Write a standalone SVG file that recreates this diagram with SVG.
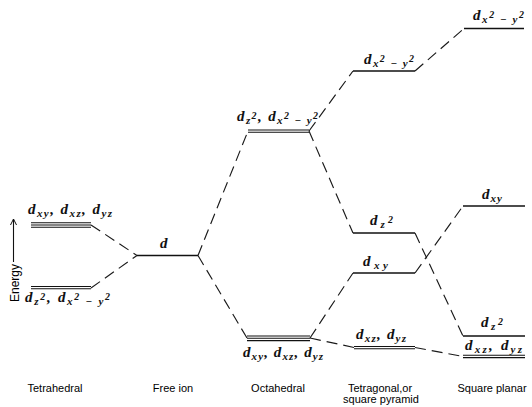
<svg xmlns="http://www.w3.org/2000/svg" width="532" height="407" viewBox="0 0 532 407">
<style>
.lv{stroke:#111;stroke-width:1.4;fill:none}
.lt{stroke:#111;stroke-width:1.05;fill:none}
.cn{stroke:#1a1a1a;stroke-width:1.15;stroke-dasharray:11 6;fill:none}
.m{font-family:"Liberation Serif","DejaVu Serif",serif;font-style:italic;font-weight:bold;font-size:15px;fill:#111}
.m .s{font-size:11px}
.m .p{font-size:10px}
.cap{font-family:"Liberation Sans",Arial,sans-serif;font-size:11px;fill:#000;text-anchor:middle}
</style>
<defs>
<marker id="ah" markerWidth="8" markerHeight="8" refX="6" refY="4" orient="auto" markerUnits="userSpaceOnUse">
<path d="M0,1 L6,4 L0,7" fill="none" stroke="#111" stroke-width="1"/>
</marker>
</defs>
<rect width="532" height="407" fill="#ffffff"/>

<g id="connectors">
<line class="cn" x1="91" y1="225" x2="137" y2="255.5"/>
<line class="cn" x1="91" y1="288" x2="137" y2="255.5"/>
<line class="cn" x1="198" y1="255.5" x2="248" y2="131"/>
<line class="cn" x1="198" y1="255.5" x2="247" y2="338"/>
<line class="cn" x1="309" y1="131" x2="353" y2="71"/>
<line class="cn" x1="309" y1="131" x2="353" y2="233"/>
<line class="cn" x1="310" y1="338" x2="353" y2="273"/>
<line class="cn" x1="310" y1="338" x2="354" y2="347.5"/>
<line class="cn" x1="415" y1="71" x2="464" y2="28.5"/>
<line class="cn" x1="415" y1="233" x2="463" y2="336"/>
<line class="cn" x1="415" y1="273" x2="463" y2="206"/>
<line class="cn" x1="415" y1="347.5" x2="463" y2="356.5"/>
</g>

<g id="energy-axis">
<line x1="13.5" y1="262" x2="13.5" y2="219" stroke="#111" stroke-width="1.1" marker-end="url(#ah)"/>
<text transform="translate(19,283) rotate(-90)" font-family="Liberation Sans, Arial, sans-serif" font-size="12" fill="#000" text-anchor="middle">Energy</text>
</g>

<g id="tetra-upper">
<line class="lt" x1="31" y1="222.7" x2="91" y2="222.7"/>
<line class="lt" x1="31" y1="225" x2="91" y2="225"/>
<line class="lt" x1="31" y1="227.3" x2="91" y2="227.3"/>
<text class="m" x="28" y="214" textLength="84" lengthAdjust="spacing">d<tspan class="s" dy="3">xy</tspan><tspan dy="-3">, d</tspan><tspan class="s" dy="3">xz</tspan><tspan dy="-3">, d</tspan><tspan class="s" dy="3">yz</tspan></text>
</g>

<g id="tetra-lower">
<line class="lt" x1="31" y1="286.5" x2="91" y2="286.5"/>
<line class="lt" x1="31" y1="288.8" x2="91" y2="288.8"/>
<text class="m" x="25" y="302" textLength="85" lengthAdjust="spacing">d<tspan class="s" dy="3">z</tspan><tspan class="p" dy="-5">2</tspan><tspan dy="2">, d</tspan><tspan class="s" dy="3">x</tspan><tspan class="p" dy="-5">2</tspan><tspan class="s" dy="5"> − y</tspan><tspan class="p" dy="-5">2</tspan></text>
</g>

<g id="free-ion">
<line class="lv" x1="137" y1="255.5" x2="198" y2="255.5"/>
<text class="m" x="160" y="248">d</text>
</g>

<g id="oct-upper">
<line class="lt" x1="248" y1="130" x2="309" y2="130"/>
<line class="lt" x1="248" y1="132.3" x2="309" y2="132.3"/>
<text class="m" x="237" y="121" textLength="81" lengthAdjust="spacing">d<tspan class="s" dy="3">z</tspan><tspan class="p" dy="-5">2</tspan><tspan dy="2">, d</tspan><tspan class="s" dy="3">x</tspan><tspan class="p" dy="-5">2</tspan><tspan class="s" dy="5"> − y</tspan><tspan class="p" dy="-5">2</tspan></text>
</g>

<g id="oct-lower">
<line class="lt" x1="247" y1="336" x2="310" y2="336"/>
<line class="lt" x1="247" y1="338.3" x2="310" y2="338.3"/>
<line class="lt" x1="247" y1="340.6" x2="310" y2="340.6"/>
<text class="m" x="243" y="357" textLength="80" lengthAdjust="spacing">d<tspan class="s" dy="3">xy</tspan><tspan dy="-3">, d</tspan><tspan class="s" dy="3">xz</tspan><tspan dy="-3">, d</tspan><tspan class="s" dy="3">yz</tspan></text>
</g>

<g id="tetragonal-dx2y2">
<line class="lv" x1="353" y1="71" x2="415" y2="71"/>
<text class="m" x="364" y="64" textLength="50" lengthAdjust="spacing">d<tspan class="s" dy="3">x</tspan><tspan class="p" dy="-5">2</tspan><tspan class="s" dy="5"> − y</tspan><tspan class="p" dy="-5">2</tspan></text>
</g>

<g id="tetragonal-dz2">
<line class="lv" x1="353" y1="233" x2="415" y2="233"/>
<text class="m" x="370" y="225" textLength="23" lengthAdjust="spacing">d<tspan class="s" dy="3">z</tspan><tspan class="p" dy="-5">2</tspan></text>
</g>

<g id="tetragonal-dxy">
<line class="lv" x1="353" y1="273" x2="415" y2="273"/>
<text class="m" x="363" y="266" textLength="25" lengthAdjust="spacing">d<tspan class="s" dy="3">xy</tspan></text>
</g>

<g id="tetragonal-dxz-dyz">
<line class="lt" x1="354" y1="346.5" x2="415" y2="346.5"/>
<line class="lt" x1="354" y1="348.8" x2="415" y2="348.8"/>
<text class="m" x="356" y="339" textLength="50" lengthAdjust="spacing">d<tspan class="s" dy="3">xz</tspan><tspan dy="-3">, d</tspan><tspan class="s" dy="3">yz</tspan></text>
</g>

<g id="square-dx2y2">
<line class="lv" x1="464" y1="28.5" x2="524" y2="28.5"/>
<text class="m" x="473" y="20" textLength="51" lengthAdjust="spacing">d<tspan class="s" dy="3">x</tspan><tspan class="p" dy="-5">2</tspan><tspan class="s" dy="5"> − y</tspan><tspan class="p" dy="-5">2</tspan></text>
</g>

<g id="square-dxy">
<line class="lv" x1="463" y1="206" x2="525" y2="206"/>
<text class="m" x="482" y="199" textLength="20" lengthAdjust="spacing">d<tspan class="s" dy="3">xy</tspan></text>
</g>

<g id="square-dz2">
<line class="lv" x1="463" y1="336" x2="525" y2="336"/>
<text class="m" x="481" y="327" textLength="22" lengthAdjust="spacing">d<tspan class="s" dy="3">z</tspan><tspan class="p" dy="-5">2</tspan></text>
</g>

<g id="square-dxz-dyz">
<line class="lt" x1="463" y1="355.3" x2="525" y2="355.3"/>
<line class="lt" x1="463" y1="357.6" x2="525" y2="357.6"/>
<text class="m" x="465" y="350" textLength="57" lengthAdjust="spacing">d<tspan class="s" dy="3">xz</tspan><tspan dy="-3">, d</tspan><tspan class="s" dy="3">yz</tspan></text>
</g>

<g id="captions">
<text class="cap" x="55" y="392">Tetrahedral</text>
<text class="cap" x="173" y="392">Free ion</text>
<text class="cap" x="278" y="392">Octahedral</text>
<text class="cap" x="380" y="392">Tetragonal,or</text>
<text class="cap" x="381" y="403">square pyramid</text>
<text class="cap" x="492" y="392">Square planar</text>
</g>
</svg>
